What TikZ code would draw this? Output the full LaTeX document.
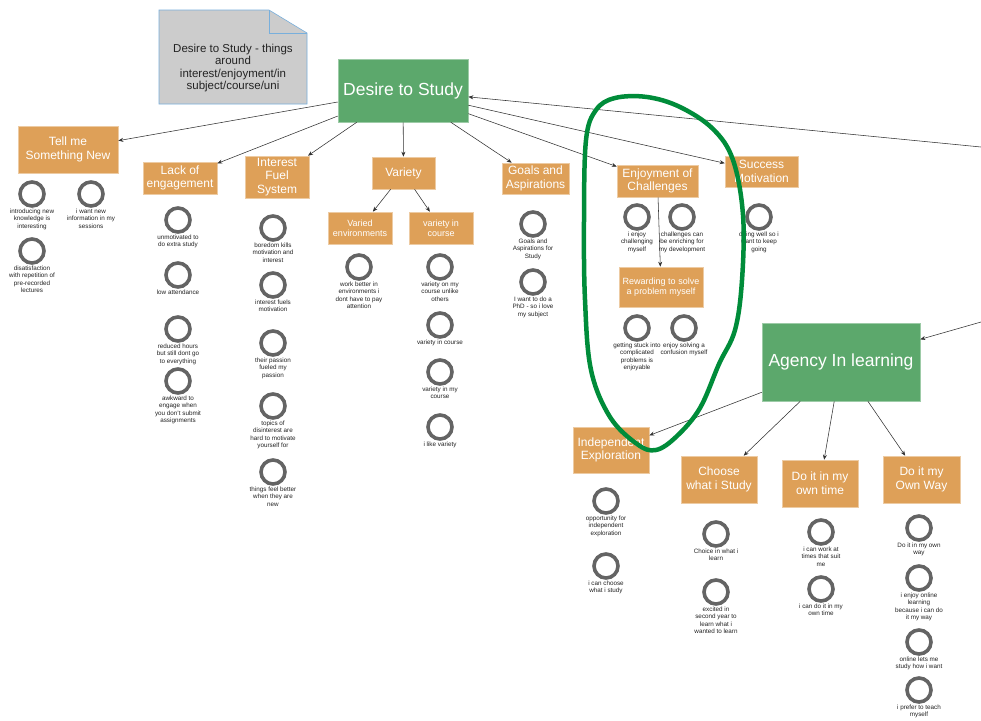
\documentclass[tikz,border=0pt]{standalone}
\usepackage{fontspec}
\setmainfont{Liberation Sans}
\usetikzlibrary{arrows.meta}

\definecolor{boxorange}{RGB}{222,160,88}
\definecolor{boxgreen}{RGB}{92,168,108}
\definecolor{ringgray}{RGB}{100,100,100}
\definecolor{notegray}{RGB}{204,204,204}
\definecolor{noteedge}{RGB}{120,175,220}
\definecolor{markgreen}{RGB}{0,140,58}
\definecolor{linkgray}{RGB}{50,50,50}
\definecolor{labeltext}{RGB}{35,35,35}

\tikzset{
  cat/.style={fill=boxorange, draw=boxorange!55!white, line width=0.6pt, text=white,
    align=center, inner sep=1pt, font=\fontsize{12}{13.7}\selectfont},
  catsmall/.style={cat, font=\fontsize{9}{10}\selectfont},
  theme/.style={fill=boxgreen, draw=boxgreen!60!white, line width=0.6pt, text=white,
    align=center, font=\fontsize{17.5}{20}\selectfont},
  ring/.style={circle, draw=ringgray, line width=3.6pt, minimum size=24pt, inner sep=0pt},
  lbl/.style={align=center, anchor=north, inner sep=0pt, text=labeltext,
    font=\fontsize{6.3}{7.2}\selectfont},
  link/.style={draw=linkgray, line width=0.55pt, -{Stealth[length=5pt,width=4pt]}},
  hoop/.style={draw=markgreen, line width=4.5pt, line join=round},
}

\begin{document}
\begin{tikzpicture}[x=1pt, y=-1pt]
  \fill[white] (0,0) rectangle (981,720);
  \useasboundingbox (0,0) rectangle (981,720);

  % sticky note
  \draw[fill=notegray, draw=noteedge, line width=0.6pt]
    (159,10) -- (269,10) -- (307,33) -- (307,104) -- (159,104) -- cycle;
  \draw[draw=noteedge, line width=0.6pt] (269,10) -- (269,33) -- (307,33);
  \node[align=center, font=\fontsize{11.5}{12.4}\selectfont, text=labeltext] (notetext) at (233,68)
    {Desire to Study - things\\around\\interest/enjoyment/in\\subject/course/uni};

  % themes
  \node[theme, minimum width=130pt, minimum height=63pt] (desire) at (403,90.5) {Desire to Study};
  \node[theme, minimum width=158pt, minimum height=78pt] (agency) at (841,362) {Agency In learning};

  % categories
  \node[cat, minimum width=100pt, minimum height=47pt] (tell) at (68,149.5) {Tell me\\Something New};
  \node[cat, minimum width=74pt, minimum height=32pt] (lack) at (180,178) {Lack of\\engagement};
  \node[cat, minimum width=64pt, minimum height=42pt] (interest) at (277,177) {Interest\\Fuel\\System};
  \node[cat, minimum width=63pt, minimum height=32pt] (variety) at (403.5,173) {Variety};
  \node[catsmall, minimum width=64pt, minimum height=32pt] (varied) at (360,228) {Varied\\environments};
  \node[catsmall, minimum width=64pt, minimum height=32pt] (vcourse) at (441,228) {variety in\\course};
  \node[cat, minimum width=67pt, minimum height=31pt] (goals) at (535.5,178.5) {Goals and\\Aspirations};
  \node[cat, minimum width=81pt, minimum height=32pt] (enjoy) at (657.5,181) {Enjoyment of\\Challenges};
  \node[catsmall, minimum width=84pt, minimum height=40pt] (reward) at (661,287) {Rewarding to solve\\a problem myself};
  \node[cat, minimum width=73pt, minimum height=31pt] (success) at (761.5,171.5) {Success\\Motivation};
  \node[cat, minimum width=76pt, minimum height=46pt] (indep) at (611,450) {Independent\\Exploration};
  \node[cat, minimum width=76pt, minimum height=47pt] (choose) at (719,479.5) {Choose\\what i Study};
  \node[cat, minimum width=76pt, minimum height=47pt] (owntime) at (820,483.5) {Do it in my\\own time};
  \node[cat, minimum width=77pt, minimum height=47pt] (ownway) at (921.5,479.5) {Do it my\\Own Way};

  % quotes: ring with its caption underneath
  \foreach \n/\x/\y/\t in {
    tA/32/194/{introducing new\\knowledge is\\interesting},
    tB/91/194/{i want new\\information in my\\sessions},
    tC/32/251/{disatisfaction\\with repetition of\\pre-recorded\\lectures},
    lA/178/220/{unmotivated to\\do extra study},
    lB/178/275/{low attendance},
    lC/178/329/{reduced hours\\but still dont go\\to everything},
    lD/178/381/{awkward to\\engage when\\you don't submit\\assignments},
    iA/273/228/{boredom kills\\motivation and\\interest},
    iB/273/285/{interest fuels\\motivation},
    iC/273/343/{their passion\\fueled my\\passion},
    iD/273/406/{topics of\\disinterest are\\hard to motivate\\yourself for},
    iE/273/472/{things feel better\\when they are\\new},
    eA/359/267/{work better in\\environments i\\dont have to pay\\attention},
    cA/440/267/{variety on my\\course unlike\\others},
    cB/440/325/{variety in course},
    cC/440/372/{variety in my\\course},
    cD/440/427/{i like variety},
    gA/533/224/{Goals and\\Aspirations for\\Study},
    gB/533/282/{I want to do a\\PhD - so i love\\my subject},
    jA/637/217/{i enjoy\\challenging\\myself},
    jB/682/217/{challenges can\\be enriching for\\my development},
    rA/637/328/{getting stuck into\\complicated\\problems is\\enjoyable},
    rB/684/328/{enjoy solving a\\confusion myself},
    sA/759/217/{doing well so i\\want to keep\\going},
    xA/606/501/{opportunity for\\independent\\exploration},
    xB/606/566/{i can choose\\what i study},
    hA/716/534/{Choice in what i\\learn},
    hB/716/592/{excited in\\second year to\\learn what i\\wanted to learn},
    oA/821/532/{i can work at\\times that suit\\me},
    oB/821/589/{i can do it in my\\own time},
    wA/919/528/{Do it in my own\\way},
    wB/919/578/{i enjoy online\\learning\\because i can do\\it my way},
    wC/919/642/{online lets me\\study how i want},
    wD/919/690/{i prefer to teach\\myself}%
  }{
    \node[ring] (\n) at (\x,\y) {};
    \node[lbl] (\n-l) at ([yshift=-1.2pt]\n.south) {\t};
  }

  % connectors
  \coordinate (edgeA) at (981,147);
  \coordinate (edgeB) at (981,322);
  \draw[link] (edgeA) -- (desire);
  \draw[link] (edgeB) -- (agency);
  \foreach \k in {tell,lack,interest,variety,goals,enjoy,success}
    \draw[link] (desire) -- (\k);
  \draw[link] (variety) -- (varied);
  \draw[link] (variety) -- (vcourse);
  \draw[link] (enjoy) -- (reward);
  \foreach \k in {indep,choose,owntime,ownway}
    \draw[link] (agency) -- (\k);

  % hand-drawn green loop
  \draw[hoop] plot[smooth cycle, tension=0.6] coordinates {
    (586,140) (596,110) (615,98) (647,97) (680,107) (713,129) (733,160)
    (743,215) (742,280) (735,330) (719,364) (700,408) (677,436) (656,450)
    (637,444) (610,417) (591,370) (585,300) (584,220)};
\end{tikzpicture}
\end{document}
